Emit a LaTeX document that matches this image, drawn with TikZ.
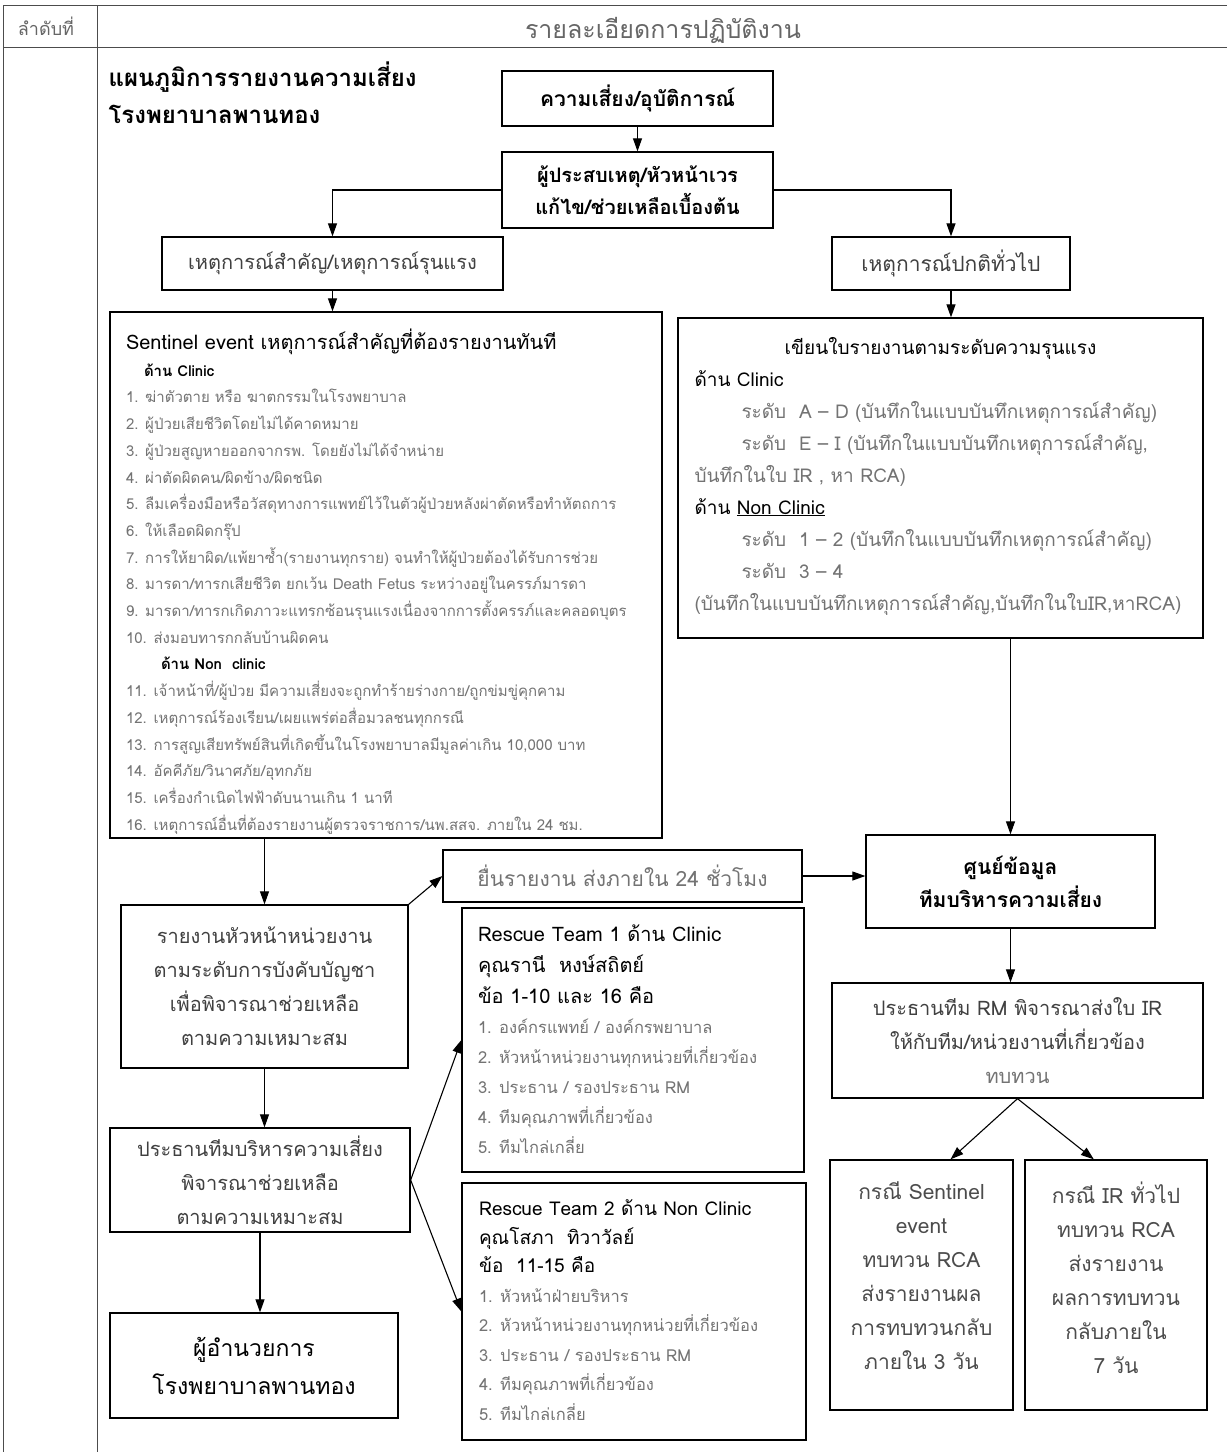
\documentclass[tikz,border=0pt]{standalone}
\usepackage{fontspec}
\setmainfont[Script=Thai]{Loma}
\usepackage{tikz}
\usetikzlibrary{arrows.meta}

\begin{document}
\begin{tikzpicture}[x=1pt,y=-1pt,baseline]
\tikzset{box/.style={draw,line width=1.3pt,inner sep=0pt,align=center,font=\fontsize{20}{34}\selectfont},
 flow/.style={line width=1.1pt,->},
 frame/.style={black!70,line width=1pt},
 >={Triangle[length=13pt,width=9pt]}}
\useasboundingbox (0,0) rectangle (1227,1452);

\draw[frame] (3,5) -- (1227,5);
\draw[frame] (3,47) -- (1227,47);
\draw[frame] (3,5) -- (3,1452);
\draw[frame] (97,5) -- (97,1452);
\node[black!60,font=\fontsize{18}{20}\selectfont] (num) at (46,26) {ลำดับที่};
\node[black!60,font=\fontsize{25}{28}\selectfont] (detail) at (663,30) {รายละเอียดการปฏิบัติงาน};
\node[anchor=north west,align=left,font=\bfseries\fontsize{24}{37}\selectfont] (title) at (105,58) {แผนภูมิการรายงานความเสี่ยง\\โรงพยาบาลพานทอง};

\node[box,minimum width=271pt,minimum height=55pt,font=\bfseries\fontsize{21}{34}\selectfont] (risk) at (637.5,98.5) {ความเสี่ยง/อุบัติการณ์};
\node[box,minimum width=271pt,minimum height=76pt,font=\bfseries\fontsize{20}{32}\selectfont] (first) at (637.5,190) {ผู้ประสบเหตุ/หัวหน้าเวร\\แก้ไข/ช่วยเหลือเบื้องต้น};
\node[box,minimum width=341pt,minimum height=53pt,text=black!75] (severe) at (332.5,263.5) {เหตุการณ์สำคัญ/เหตุการณ์รุนแรง};
\node[box,minimum width=238pt,minimum height=53pt,text=black!75,font=\fontsize{21}{34}\selectfont] (general) at (951,263.5) {เหตุการณ์ปกติทั่วไป};

\node[box,minimum width=552pt,minimum height=526pt,align=left] (sentinel) at (386,575) {\parbox[c][492pt][t]{520pt}{\raggedright
{\fontsize{20}{24}\selectfont Sentinel event เหตุการณ์สำคัญที่ต้องรายงานทันที}\par
\fontsize{15}{26.7}\selectfont
\hspace*{18pt}{\bfseries ด้าน Clinic}\\
{\color{black!55}1. ฆ่าตัวตาย หรือ ฆาตกรรมในโรงพยาบาล\\
2. ผู้ป่วยเสียชีวิตโดยไม่ได้คาดหมาย\\
3. ผู้ป่วยสูญหายออกจากรพ. โดยยังไม่ได้จำหน่าย\\
4. ผ่าตัดผิดคน/ผิดข้าง/ผิดชนิด\\
5. ลืมเครื่องมือหรือวัสดุทางการแพทย์ไว้ในตัวผู้ป่วยหลังผ่าตัดหรือทำหัตถการ\\
6. ให้เลือดผิดกรุ๊ป\\
7. การให้ยาผิด/แพ้ยาซ้ำ(รายงานทุกราย) จนทำให้ผู้ป่วยต้องได้รับการช่วย\\
8. มารดา/ทารกเสียชีวิต ยกเว้น Death Fetus ระหว่างอยู่ในครรภ์มารดา\\
9. มารดา/ทารกเกิดภาวะแทรกซ้อนรุนแรงเนื่องจากการตั้งครรภ์และคลอดบุตร\\
10. ส่งมอบทารกกลับบ้านผิดคน}\\
\hspace*{35pt}{\bfseries ด้าน Non\ \ clinic}\\
{\color{black!55}11. เจ้าหน้าที่/ผู้ป่วย มีความเสี่ยงจะถูกทำร้ายร่างกาย/ถูกข่มขู่คุกคาม\\
12. เหตุการณ์ร้องเรียน/เผยแพร่ต่อสื่อมวลชนทุกกรณี\\
13. การสูญเสียทรัพย์สินที่เกิดขึ้นในโรงพยาบาลมีมูลค่าเกิน 10,000 บาท\\
14. อัคคีภัย/วินาศภัย/อุทกภัย\\
15. เครื่องกำเนิดไฟฟ้าดับนานเกิน 1 นาที\\
16. เหตุการณ์อื่นที่ต้องรายงานผู้ตรวจราชการ/นพ.สสจ. ภายใน 24 ชม.}}};

\node[box,minimum width=525pt,minimum height=320pt,align=left] (levels) at (940.5,478) {\parbox[c][282pt][t]{492pt}{\fontsize{19}{32}\selectfont
{\centering เขียนใบรายงานตามระดับความรุนแรง\par}\raggedright
ด้าน Clinic\\
{\color{black!55}\hspace*{47pt}ระดับ\ \ A -- D (บันทึกในแบบบันทึกเหตุการณ์สำคัญ)\\
\hspace*{47pt}ระดับ\ \ E -- I (บันทึกในแบบบันทึกเหตุการณ์สำคัญ,\\
บันทึกในใบ IR , หา RCA)}\\
ด้าน \underline{Non Clinic}\\
{\color{black!55}\hspace*{47pt}ระดับ\ \ 1 -- 2 (บันทึกในแบบบันทึกเหตุการณ์สำคัญ)\\
\hspace*{47pt}ระดับ\ \ 3 -- 4\\
(บันทึกในแบบบันทึกเหตุการณ์สำคัญ,บันทึกในใบIR,หาRCA)}}};

\node[box,minimum width=289pt,minimum height=93pt,font=\bfseries\fontsize{21}{33}\selectfont] (datactr) at (1010.5,881.5) {ศูนย์ข้อมูล\\ทีมบริหารความเสี่ยง};
\node[box,minimum width=359pt,minimum height=52pt,text=black!55,font=\fontsize{21}{34}\selectfont] (submit) at (622.5,876) {ยื่นรายงาน ส่งภายใน 24 ชั่วโมง};
\node[box,minimum width=287pt,minimum height=163pt,text=black!75] (headrep) at (264.5,986.5) {รายงานหัวหน้าหน่วยงาน\\ตามระดับการบังคับบัญชา\\เพื่อพิจารณาช่วยเหลือ\\ตามความเหมาะสม};
\node[box,minimum width=300pt,minimum height=104pt,text=black!75] (chair) at (260,1180) {ประธานทีมบริหารความเสี่ยง\\พิจารณาช่วยเหลือ\\ตามความเหมาะสม};
\node[box,minimum width=288pt,minimum height=105pt,font=\fontsize{23}{38}\selectfont] (director) at (254,1365.5) {ผู้อำนวยการ\\โรงพยาบาลพานทอง};

\node[box,minimum width=342pt,minimum height=264pt,align=left] (team1) at (633,1040) {\parbox[c][230pt][t]{310pt}{\raggedright
\fontsize{20}{31}\selectfont Rescue Team 1 ด้าน Clinic\\
คุณรานี\ \ หงษ์สถิตย์\\
ข้อ 1-10 และ 16 คือ\par
\fontsize{16.5}{30}\selectfont\color{black!55}
1. องค์กรแพทย์ / องค์กรพยาบาล\\
2. หัวหน้าหน่วยงานทุกหน่วยที่เกี่ยวข้อง\\
3. ประธาน / รองประธาน RM\\
4. ทีมคุณภาพที่เกี่ยวข้อง\\
5. ทีมไกล่เกลี่ย}};
\node[box,minimum width=344pt,minimum height=257pt,align=left] (team2) at (634,1311.5) {\parbox[c][223pt][t]{310pt}{\raggedright
\fontsize{19}{28.5}\selectfont Rescue Team 2 ด้าน Non Clinic\\
คุณโสภา\ \ ทิวาวัลย์\\
ข้อ\ \ 11-15 คือ\par
\fontsize{16.5}{29.5}\selectfont\color{black!55}
1. หัวหน้าฝ่ายบริหาร\\
2. หัวหน้าหน่วยงานทุกหน่วยที่เกี่ยวข้อง\\
3. ประธาน / รองประธาน RM\\
4. ทีมคุณภาพที่เกี่ยวข้อง\\
5. ทีมไกล่เกลี่ย}};

\node[box,minimum width=371pt,minimum height=115pt,text=black!75] (rmchair) at (1017.5,1040.5) {ประธานทีม RM พิจารณาส่งใบ IR\\ให้กับทีม/หน่วยงานที่เกี่ยวข้อง\\{\color{black!55}ทบทวน}};
\node[box,minimum width=183pt,minimum height=250pt,text=black!70,font=\fontsize{21}{34}\selectfont] (casesent) at (921.5,1285) {\parbox[c][206pt][t]{175pt}{\centering
กรณี Sentinel\\event\\ทบทวน RCA\\ส่งรายงานผล\\การทบทวนกลับ\\ภายใน 3 วัน}};
\node[box,minimum width=182pt,minimum height=250pt,text=black!70,font=\fontsize{21}{34}\selectfont] (caseir) at (1116,1285) {\parbox[c][206pt][t]{175pt}{\centering
กรณี IR ทั่วไป\\ทบทวน RCA\\ส่งรายงาน\\ผลการทบทวน\\กลับภายใน\\7 วัน}};

\draw[flow] (risk) -- (first);
\draw[flow] (first.west) -| (severe.north);
\draw[flow] (first.east) -| (general.north);
\draw[flow] (severe.south) -- (severe.south |- sentinel.north);
\draw[flow] (general.south) -- (general.south |- levels.north);
\draw[flow] (datactr.north |- levels.south) -- (datactr.north);
\draw[flow] (headrep.north |- sentinel.south) -- (headrep.north);
\draw[flow] (headrep.north east) -- (submit.west);
\draw[flow] (submit.east) -- (submit.east -| datactr.west);
\draw[flow] (headrep.south) -- (headrep.south |- chair.north);
\draw[flow] (chair.south) -- (chair.south |- director.north);
\draw[flow] (chair.east) -- (team1.west);
\draw[flow] (chair.east) -- (team2.west);
\draw[flow] (datactr.south) -- (datactr.south |- rmchair.north);
%\draw[flow] (rmchair.south) -- (casesent.north);
\draw[flow] (rmchair.south) -- (casesent.77);
\draw[flow] (rmchair.south) -- (caseir.100);

\end{tikzpicture}
\end{document}
